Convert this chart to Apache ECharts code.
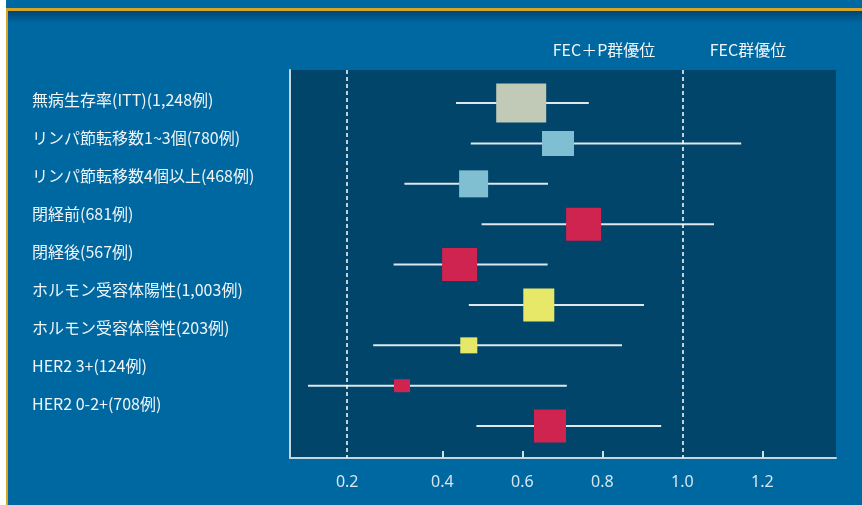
<!DOCTYPE html>
<html>
<head>
<meta charset="utf-8">
<title>サブグループ解析</title>
<script src="https://cdn.jsdelivr.net/npm/echarts@6/dist/echarts.min.js"></script>
<style>
    html, body { margin: 0; padding: 0; background: #ffffff; }
    #forest-chart { width: 862px; height: 505px; }
</style>
</head>
<body>
<div id="forest-chart"></div>
<script>
// サブグループ名
var subgroups = [
    '無病生存率(ITT)(1,248例)',
    'リンパ節転移数1~3個(780例)',
    'リンパ節転移数4個以上(468例)',
    '閉経前(681例)',
    '閉経後(567例)',
    'ホルモン受容体陽性(1,003例)',
    'ホルモン受容体陰性(203例)',
    'HER2 3+(124例)',
    'HER2 0-2+(708例)'
];
// hazard ratio and 95% CI
var hrEst = [0.597, 0.689, 0.478, 0.753, 0.443, 0.641, 0.466, 0.299, 0.669];
var ciLow = [0.434, 0.471, 0.305, 0.498, 0.278, 0.466, 0.227, 0.064, 0.485];
var ciHigh = [0.766, 1.147, 0.664, 1.079, 0.663, 0.904, 0.849, 0.711, 0.947];
// axis ticks (the 0.2 reference line sits left of its linear place in the original)
var tickValues = [0.162, 0.4, 0.6, 0.8, 1.0, 1.2];
var tickLabels = ['0.2', '0.4', '0.6', '0.8', '1.0', '1.2'];
var refLines = [0.162, 1.0];
var headers = ['FEC＋P群優位', 'FEC群優位'];

// marker look (size follows weight in the original)
var boxSizes = [[50, 39], [32, 25], [29, 27], [35, 33], [35, 33], [31, 33], [17, 16], [16, 13], [32, 33]];
var boxColors = ['#c0cab6', '#80bed1', '#80bed1', '#cf2350', '#cf2350', '#e8e868', '#e8e868', '#cf2350', '#cf2350'];

var rows = subgroups.map(function (name, i) {
    return [ciLow[i], ciHigh[i], hrEst[i], i];
});

function renderForest(params, api) {
    var y = api.value(3);
    var p1 = api.coord([api.value(0), y]);
    var p2 = api.coord([api.value(1), y]);
    var c = api.coord([api.value(2), y]);
    var s = boxSizes[params.dataIndex];
    return {
        type: 'group',
        children: [
            {
                type: 'line',
                shape: { x1: p1[0], y1: p1[1], x2: p2[0], y2: p2[1] },
                style: { stroke: '#dde7ec', lineWidth: 2 }
            },
            {
                type: 'rect',
                shape: { x: c[0] - s[0] / 2, y: c[1] - s[1] / 2, width: s[0], height: s[1] },
                style: { fill: boxColors[params.dataIndex] }
            }
        ]
    };
}

var chart = echarts.init(document.getElementById('forest-chart'));
var option = {
    backgroundColor: '#0068a1',
    animation: false,
    graphic: [
        { type: 'rect', left: 0, top: 0, shape: { width: 6, height: 505 }, style: { fill: '#ffffff' } },
        { type: 'rect', left: 6, top: 8, shape: { width: 2, height: 497 }, style: { fill: '#d6a42a' } },
        {
            type: 'rect', left: 8, top: 11, shape: { width: 854, height: 12 },
            style: {
                fill: new echarts.graphic.LinearGradient(0, 0, 0, 1, [
                    { offset: 0, color: 'rgba(0,40,80,0.55)' },
                    { offset: 1, color: 'rgba(0,40,80,0)' }
                ])
            }
        },
        { type: 'rect', left: 6, top: 8, shape: { width: 856, height: 3 }, style: { fill: '#d6a42a' } },
        {
            type: 'text', x: 604, y: 50,
            style: { text: headers[0], fill: '#f2f6f9', font: '16px "Noto Sans CJK JP"', textAlign: 'center', textVerticalAlign: 'middle' }
        },
        {
            type: 'text', x: 748, y: 50,
            style: { text: headers[1], fill: '#f2f6f9', font: '16px "Noto Sans CJK JP"', textAlign: 'center', textVerticalAlign: 'middle' }
        }
    ],
    grid: [
        {
            left: 290, top: 70, right: 26, bottom: 47,
            show: true, backgroundColor: '#01456a', borderWidth: 0
        },
        { left: 22, width: 1, top: 81, height: 342 }
    ],
    xAxis: [
        {
            type: 'value',
            gridIndex: 0,
            min: 0.019,
            max: 1.384,
            splitLine: { show: false },
            axisLine: { onZero: false, lineStyle: { color: '#c4d6e0', width: 2 } },
            axisTick: {
                customValues: [0.4, 0.6, 0.8, 1.2],
                inside: true,
                length: 7,
                lineStyle: { color: '#d0dde5', width: 2 }
            },
            axisLabel: {
                customValues: tickValues,
                margin: 16,
                color: '#d8e6ee',
                fontSize: 16,
                fontFamily: 'Noto Sans',
                formatter: function (v) {
                    return tickLabels[tickValues.indexOf(v)];
                }
            }
        },
        { type: 'value', gridIndex: 1, show: false }
    ],
    yAxis: [
        {
            type: 'value',
            gridIndex: 0,
            inverse: true,
            min: -0.82,
            max: 8.79,
            splitLine: { show: false },
            axisTick: { show: false },
            axisLabel: { show: false },
            axisLine: { show: true, onZero: false, lineStyle: { color: '#c4d6e0', width: 2 } }
        },
        {
            type: 'category',
            gridIndex: 1,
            position: 'right',
            inverse: true,
            data: subgroups,
            axisLine: { show: false },
            axisTick: { show: false },
            axisLabel: {
                margin: 9,
                color: '#f0f5f8',
                fontSize: 16,
                fontFamily: 'Noto Sans CJK JP'
            }
        }
    ],
    series: [
        {
            type: 'custom',
            xAxisIndex: 0,
            yAxisIndex: 0,
            renderItem: renderForest,
            encode: { x: [0, 1, 2], y: 3 },
            data: rows,
            markLine: {
                silent: true,
                symbol: 'none',
                label: { show: false },
                lineStyle: { color: '#ffffff', type: [4, 3], width: 1.5 },
                data: refLines.map(function (v) { return { xAxis: v }; })
            }
        }
    ]
};
chart.setOption(option);
</script>
</body>
</html>
